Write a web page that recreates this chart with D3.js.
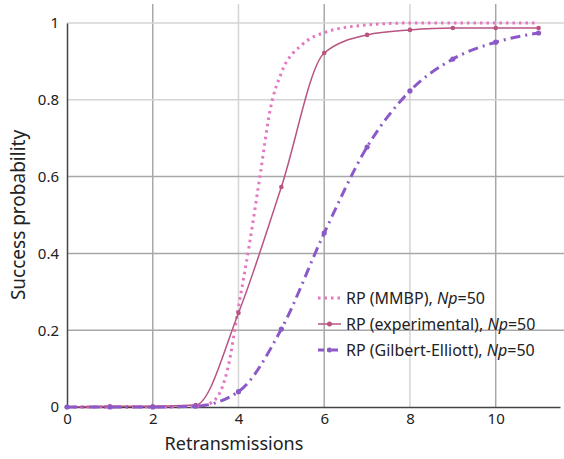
<!DOCTYPE html>
<html><head><meta charset="utf-8">
<script src="https://cdn.jsdelivr.net/npm/d3@7"></script>
<style>body{margin:0;background:#fff}text{font-family:"Noto Sans","Open Sans",sans-serif}</style>
</head><body><svg id="c" width="564" height="459"></svg>
<script>
const mmbpX = [0, 1, 2, 3, 3.25, 3.5, 3.75, 4, 4.25, 4.5, 4.75, 5, 5.5, 6, 7, 8, 9, 10, 11];
const mmbpY = [0, 0, 0, 0.002, 0.006, 0.025, 0.1, 0.26, 0.42, 0.6, 0.78, 0.87, 0.945, 0.975, 0.995, 1, 1, 1, 1];
const expX = [0, 1, 2, 3, 4, 5, 6, 7, 8, 9, 10, 11];
const expY = [0, 0.002, 0.002, 0.005, 0.245, 0.573, 0.922, 0.969, 0.982, 0.987, 0.987, 0.987];
const geX = [0, 1, 2, 3, 4, 5, 6, 7, 8, 9, 10, 11];
const geY = [0, 0, 0, 0.002, 0.04, 0.203, 0.453, 0.677, 0.823, 0.906, 0.95, 0.974];
const xTicks = [0, 2, 4, 6, 8, 10];
const yTicks = [0, 0.2, 0.4, 0.6, 0.8, 1];
const series = [
  {name: "RP (MMBP), ", x: mmbpX, y: mmbpY, color: "#e377c2", dash: "2.5,4", w: 3, dots: false},
  {name: "RP (experimental), ", x: expX, y: expY, color: "#b95482", dash: null, w: 1.5, dots: true},
  {name: "RP (Gilbert-Elliott), ", x: geX, y: geY, color: "#8c5ac8", dash: "10,5,2,5", w: 3, dots: true}
];

const svg = d3.select("#c");
const x = d3.scaleLinear().domain([0, 11.5]).range([67, 560]);
const y = d3.scaleLinear().domain([0, 1]).range([407, 23]);

// grid
svg.append("g").selectAll("line").data(d3.range(1, 12)).join("line")
  .attr("x1", d => x(d)).attr("x2", d => x(d)).attr("y1", 4).attr("y2", 407)
  .attr("stroke", d => d % 2 ? "none" : (d % 4 === 2 ? "#a8a8a8" : "#d4d4d4")).attr("stroke-width", 1.5);
svg.append("g").selectAll("line").data(yTicks.slice(1)).join("line")
  .attr("x1", 67).attr("x2", 564).attr("y1", d => y(d)).attr("y2", d => y(d))
  .attr("stroke", d => d > 0.7 ? "#d4d4d4" : "#a8a8a8").attr("stroke-width", 1.5);

const xa = svg.append("g").attr("transform", "translate(0,407)")
  .call(d3.axisBottom(x).tickValues(xTicks).tickSize(0).tickPadding(6));
const ya = svg.append("g").attr("transform", "translate(67,0)")
  .call(d3.axisLeft(y).tickValues(yTicks).tickSize(0).tickPadding(8).tickFormat(d3.format("~g")));
[xa, ya].forEach(a => {
  a.select(".domain").attr("stroke", "#444").attr("stroke-width", 1.5);
  a.selectAll("text").attr("font-size", 15).attr("fill", "#222");
});

svg.append("text").attr("x", 234).attr("y", 450).attr("text-anchor", "middle")
  .attr("font-size", 18).attr("fill", "#222").text("Retransmissions");
svg.append("text").attr("transform", "translate(25,215) rotate(-90)").attr("text-anchor", "middle")
  .attr("font-size", 19).attr("fill", "#222").text("Success probability");

const line = d3.line().x(d => x(d[0])).y(d => y(d[1])).curve(d3.curveMonotoneX);
series.forEach(s => {
  const pts = s.x.map((v, i) => [v, s.y[i]]);
  svg.append("path").attr("d", line(pts)).attr("fill", "none")
    .attr("stroke", s.color).attr("stroke-width", s.w).attr("stroke-dasharray", s.dash);
  if (s.dots) svg.append("g").selectAll("circle").data(pts).join("circle")
    .attr("cx", d => x(d[0])).attr("cy", d => y(d[1])).attr("r", s.w > 2 ? 2.6 : 2.3).attr("fill", s.color);
});

const lg = svg.append("g");
series.forEach((s, i) => {
  const ly = 298 + i * 26;
  lg.append("line").attr("x1", 318).attr("x2", 341).attr("y1", ly).attr("y2", ly)
    .attr("stroke", s.color).attr("stroke-width", s.w).attr("stroke-dasharray", s.dash ? (i === 0 ? "2.5,4" : "6,3,2,3") : null);
  if (s.dots) lg.append("circle").attr("cx", 329.5).attr("cy", ly).attr("r", 2.5).attr("fill", s.color);
  const t = lg.append("text").attr("x", 346).attr("y", ly + 5.5).attr("font-size", 16).attr("fill", "#222");
  t.append("tspan").text(s.name);
  t.append("tspan").attr("font-style", "italic").text("Np");
  t.append("tspan").text("=50");
});
</script></body></html>
